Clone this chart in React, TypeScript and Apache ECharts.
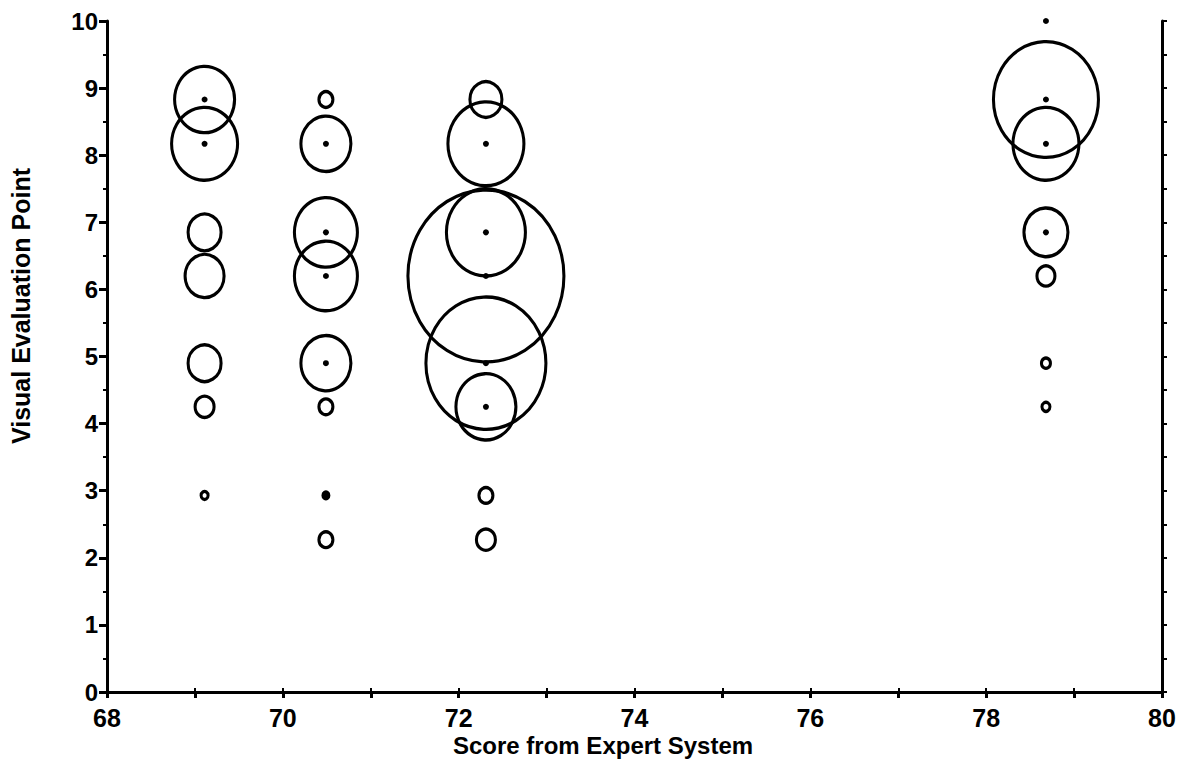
import React, { useEffect, useRef } from "react";
import * as echarts from "echarts";

// Column positions (Score from Expert System)
const scores = [69.11, 70.49, 72.31, 78.68];

// Bubbles: [score, visual point, bubble weight]
const bubbles691: number[][] = [
  [69.11, 8.83, 63], [69.11, 8.17, 69], [69.11, 6.85, 36], [69.11, 6.2, 42],
  [69.11, 4.9, 36], [69.11, 4.25, 22], [69.11, 2.93, 10],
];
const bubbles705: number[][] = [
  [70.49, 8.83, 17], [70.49, 8.17, 53], [70.49, 6.85, 66], [70.49, 6.2, 66],
  [70.49, 4.9, 53], [70.49, 4.25, 17], [70.49, 2.93, 9], [70.49, 2.27, 17],
];
const bubbles723: number[][] = [
  [72.31, 8.83, 35], [72.31, 8.17, 79], [72.31, 6.85, 82], [72.31, 6.2, 159],
  [72.31, 4.9, 123], [72.31, 4.25, 63], [72.31, 2.93, 17], [72.31, 2.27, 22],
];
const bubbles787: number[][] = [
  [78.68, 8.83, 108], [78.68, 8.17, 69], [78.68, 6.85, 47], [78.68, 6.2, 21],
  [78.68, 4.9, 12], [78.68, 4.25, 11],
];

// Center dots: [score, visual point]
const dots: number[][] = [
  [69.11, 8.83], [69.11, 8.17],
  [70.49, 8.17], [70.49, 6.85], [70.49, 6.2], [70.49, 4.9], [70.49, 2.93],
  [72.31, 8.17], [72.31, 6.85], [72.31, 6.2], [72.31, 4.9], [72.31, 4.25],
  [78.68, 10], [78.68, 8.83], [78.68, 8.17], [78.68, 6.85],
];

const xTitle = "Score from Expert System";
const yTitle = "Visual Evaluation Point";

const FONT = "'Liberation Sans', Arial, Helvetica, sans-serif";

export default function App() {
  const ref = useRef<HTMLDivElement>(null);
  useEffect(() => {
    if (!ref.current) return;
    const chart = echarts.init(ref.current, null, { renderer: "svg" });
    const allBubbles = [...bubbles691, ...bubbles705, ...bubbles723, ...bubbles787];
    const axisLine = { show: true, lineStyle: { color: "#000", width: 3 } };
    chart.setOption({
      animation: false,
      backgroundColor: "#fff",
      grid: { left: 107, right: 21, top: 21, bottom: 77, containLabel: false },
      xAxis: [
        {
          type: "value", position: "bottom", min: 68, max: 80, interval: 2, z: 5,
          axisLine, splitLine: { show: false },
          axisTick: { show: true, inside: false, length: 6, lineStyle: { color: "#000", width: 3 } },
          minorTick: { show: true, splitNumber: 2, length: 6, lineStyle: { color: "#000", width: 3 } },
          axisLabel: { color: "#000", fontFamily: FONT, fontWeight: "bold", fontSize: 25, margin: 13 },
        },
        {
          type: "value", position: "top", min: 68, max: 80, interval: 1, z: 5,
          axisLine, splitLine: { show: false },
          axisTick: { show: true, inside: false, length: 4, lineStyle: { color: "#000", width: 2 } },
          axisLabel: { show: false },
        },
      ],
      yAxis: [
        {
          type: "value", position: "left", min: 0, max: 10, interval: 1, z: 5,
          axisLine, splitLine: { show: false },
          axisTick: { show: true, inside: false, length: 8, lineStyle: { color: "#000", width: 3 } },
          minorTick: { show: true, splitNumber: 2, length: 4, lineStyle: { color: "#000", width: 2 } },
          axisLabel: { color: "#000", fontFamily: FONT, fontWeight: "bold", fontSize: 24, margin: 9 },
        },
        {
          type: "value", position: "right", min: 0, max: 10, interval: 0.5, z: 5,
          axisLine, splitLine: { show: false },
          axisTick: { show: true, inside: false, length: 5, lineStyle: { color: "#000", width: 2 } },
          axisLabel: { show: false },
        },
      ],
      series: [
        {
          type: "scatter",
          data: allBubbles,
          symbol: "circle",
          symbolSize: (v: number[]) => [Math.max(v[2] - 3, 4), Math.max(v[2] * 1.1 - 3, 5)],
          itemStyle: { color: "rgba(0,0,0,0)", borderColor: "#000", borderWidth: 3.2, opacity: 1 },
          emphasis: { disabled: true },
          z: 3,
        },
        {
          type: "scatter",
          data: dots,
          symbol: "circle",
          symbolSize: 6,
          itemStyle: { color: "#000", opacity: 1 },
          emphasis: { disabled: true },
          z: 2,
        },
      ],
      graphic: [
        {
          type: "text", left: 453, top: 733,
          style: { text: xTitle, fill: "#000", font: `bold 24px ${FONT}` },
        },
        {
          type: "text", x: 21, y: 306, rotation: Math.PI / 2,
          style: { text: yTitle, fill: "#000", font: `bold 25px ${FONT}`, align: "center", verticalAlign: "middle" },
        },
      ],
    });
    return () => chart.dispose();
  }, []);
  return <div ref={ref} style={{ width: 1183, height: 769, position: "absolute", left: 0, top: 0 }} />;
}
